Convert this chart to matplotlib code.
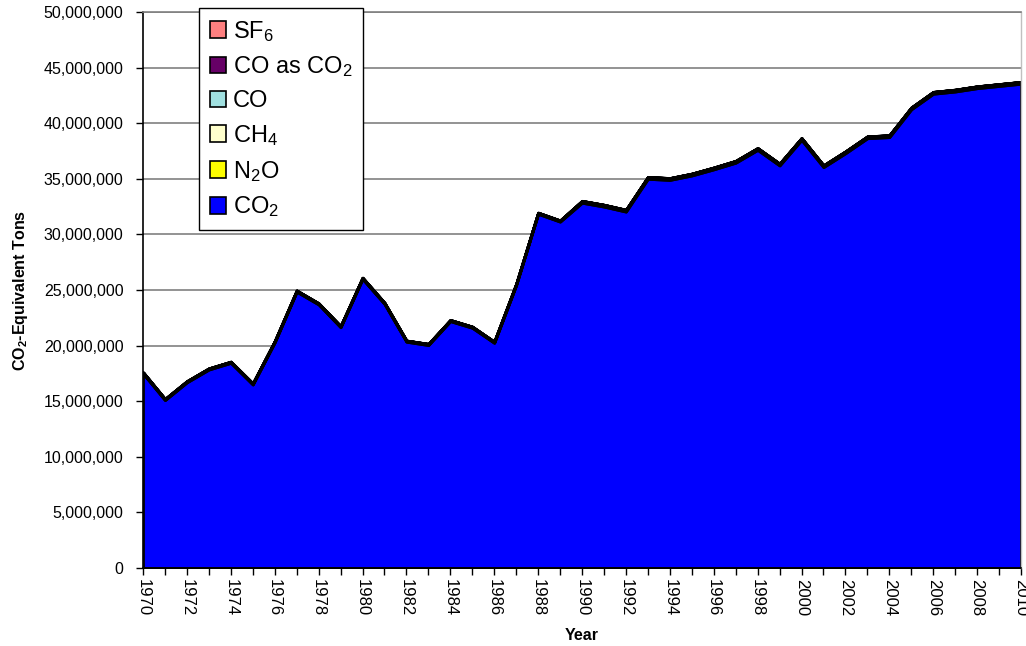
import matplotlib
matplotlib.use("Agg")
import matplotlib.pyplot as plt
from matplotlib.patches import Patch
from matplotlib.ticker import FuncFormatter
import numpy as np

plt.rcParams['font.family'] = ['Liberation Sans', 'DejaVu Sans']
plt.rcParams['mathtext.fontset'] = 'custom'
plt.rcParams['mathtext.rm'] = 'Liberation Sans'
plt.rcParams['mathtext.it'] = 'Liberation Sans:italic'
plt.rcParams['mathtext.bf'] = 'Liberation Sans:bold'

years = list(range(1970, 2011))

co2 = [17.5, 15.1, 16.7, 17.85, 18.45, 16.5, 20.3, 24.85, 23.7, 21.65,
       26.0, 23.75, 20.35, 20.05, 22.2, 21.6, 20.25, 25.45, 31.85, 31.15,
       32.85, 32.5, 32.05, 35.0, 34.9, 35.3, 35.85, 36.45, 37.6, 36.2,
       38.5, 36.05, 37.3, 38.65, 38.75, 41.25, 42.65, 42.85, 43.15, 43.35, 43.55]
co2 = [v * 1e6 for v in co2]
n2o = [0.06e6] * 20 + [0.12e6] * 21
ch4 = [0.03e6] * 41
co = [0.005e6] * 41
co_as_co2 = [0.01e6] * 41
sf6 = [0.005e6] * 41

series = [co2, n2o, ch4, co, co_as_co2, sf6]
labels = ['CO$_2$', 'N$_2$O', 'CH$_4$', 'CO', 'CO as CO$_2$', 'SF$_6$']
colors = ['#0000FF', '#FFFF00', '#FFFFCC', '#A0E0E0', '#660066', '#FF8080']

y_ticks = list(range(0, 50000001, 5000000))

fig = plt.figure(figsize=(10.26, 6.46), dpi=100)
ax = fig.add_axes([143/1026, 78/646, (1021-143)/1026, (568-12)/646])

ax.stackplot(years, *series, colors=colors, edgecolor='black', linewidth=2.0)

ax.set_xlim(1970, 2010)
ax.set_ylim(0, 50000000)
ax.set_yticks(y_ticks)
ax.yaxis.set_major_formatter(FuncFormatter(lambda v, p: f'{int(v):,}'))
ax.set_xticks(years[::2])
ax.set_xticks(years, minor=True)
ax.set_xticklabels([str(y) for y in years[::2]], rotation=-90, fontsize=12)
ax.tick_params(axis='y', labelsize=11.5, length=5, width=1, direction='out', pad=9)
ax.tick_params(axis='x', which='both', length=5, width=1, direction='out', pad=3)

ax.yaxis.grid(True, color='#808080', linewidth=1.2)
ax.set_axisbelow(True)
ax.spines['right'].set_color('#C0C0C0')
ax.spines['right'].set_linewidth(1)
ax.spines['top'].set_color('#808080')
ax.spines['top'].set_linewidth(1.2)
for s in ['left', 'bottom']:
    ax.spines[s].set_color('black')
    ax.spines[s].set_linewidth(1.2)

ax.set_xlabel('Year', fontsize=11.5, fontweight='bold', labelpad=8)
ax.set_ylabel(r'CO$_\mathbf{2}$-Equivalent Tons', fontsize=11.5, fontweight='bold', labelpad=10)

handles = [Patch(facecolor=c, edgecolor='black', linewidth=1.2) for c in colors]
leg = fig.legend(handles[::-1], labels[::-1], loc='upper left',
                 bbox_to_anchor=(199/1026, 1 - 8/646), fontsize=17,
                 frameon=True, fancybox=False, framealpha=1, edgecolor='black',
                 handlelength=0.7, handleheight=0.7, handletextpad=0.3,
                 labelspacing=0.46, borderpad=0.45, borderaxespad=0)
leg.get_frame().set_linewidth(1.0)

fig.savefig('out.png', dpi=100)
